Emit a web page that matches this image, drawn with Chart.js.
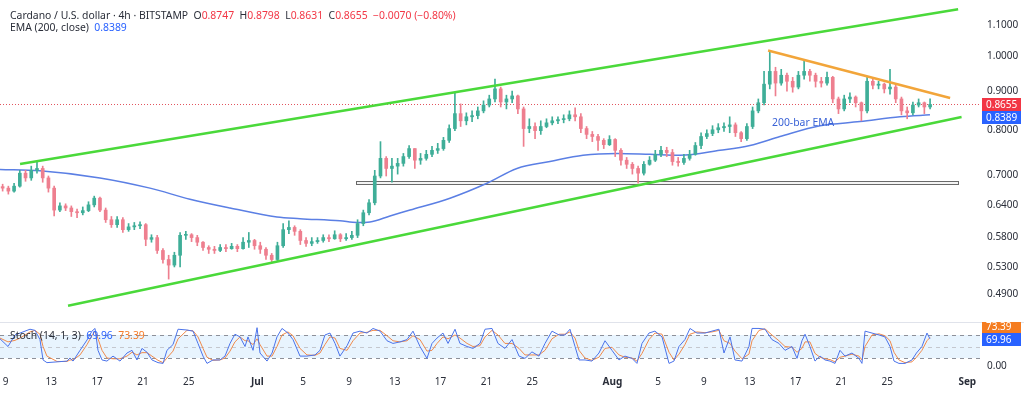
<!DOCTYPE html>
<html><head><meta charset="utf-8">
<script src="https://cdn.jsdelivr.net/npm/chart.js@4.4.1/dist/chart.umd.min.js"></script>
<style>
html,body{margin:0;padding:0;background:#fff;}
body{width:1024px;height:396px;position:relative;overflow:hidden;font-family:'Noto Sans',sans-serif;}
canvas{position:absolute;left:0;}
#main{top:0;}
#stoch{top:322px;}
.t{position:absolute;white-space:nowrap;font-size:10.4px;line-height:12px;color:#2a2e39;}
.r{color:#f23645;} .b{color:#2962ff;} .o{color:#f57c2b;}
</style></head><body>
<canvas id="main" width="1024" height="322"></canvas>
<canvas id="stoch" width="1024" height="74"></canvas>
<div class="t" style="left:10px;top:9px">Cardano / U.S. dollar · 4h · BITSTAMP&nbsp;&nbsp;O<span class="r">0.8747</span>&nbsp;&nbsp;H<span class="r">0.8798</span>&nbsp;&nbsp;L<span class="r">0.8631</span>&nbsp;&nbsp;C<span class="r">0.8655</span>&nbsp;&nbsp;<span class="r">−0.0070 (−0.80%)</span></div>
<div class="t" style="left:10px;top:21px">EMA (200, close)&nbsp;&nbsp;<span class="b">0.8389</span></div>
<div class="t" style="left:772px;top:116px;color:#3a62d6;">200-bar EMA</div>
<div class="t" style="left:10px;top:329px">Stoch (14, 1, 3)&nbsp;&nbsp;<span class="b">69.96</span>&nbsp;&nbsp;<span class="o">73.39</span></div>
<script>
// ---- axis categories (days since Jun 9) ----
const tickDays   = [0,4,8,12,16,22,26,30,34,38,42,46,53,57,61,65,69,73,77,84];
const tickLabels = ['9','13','17','21','25','Jul','5','9','13','17','21','25','Aug','5','9','13','17','21','25','Sep'];
const priceTicks = [0.49,0.53,0.58,0.64,0.70,0.80,0.90,1.00,1.10];
const stochLevels = [20,50,80];

// ---- 12h candles starting Jun 8 12:00 ----
const candleStartDay = -0.5;
const candleStepDays = 0.5;
const firstOpen = 0.676;
const closes = [0.673,0.667,0.677,0.704,0.694,0.710,0.714,0.694,0.673,0.630,
0.638,0.634,0.627,0.625,0.629,0.640,0.653,0.630,0.612,0.603,
0.612,0.594,0.599,0.601,0.603,0.577,0.580,0.558,0.543,0.534,
0.550,0.584,0.585,0.580,0.572,0.563,0.560,0.558,0.563,0.561,
0.565,0.561,0.572,0.575,0.566,0.560,0.550,0.543,0.566,0.594,
0.598,0.591,0.575,0.570,0.573,0.575,0.580,0.578,0.585,0.578,
0.580,0.584,0.605,0.625,0.644,0.698,0.736,0.714,0.719,0.725,
0.740,0.758,0.732,0.736,0.745,0.754,0.758,0.777,0.805,0.842,
0.824,0.834,0.837,0.849,0.864,0.880,0.907,0.872,0.880,0.888,
0.854,0.805,0.810,0.800,0.810,0.819,0.824,0.827,0.829,0.839,
0.834,0.805,0.791,0.786,0.777,0.767,0.779,0.754,0.732,0.723,
0.714,0.704,0.723,0.732,0.745,0.754,0.749,0.729,0.727,0.736,
0.745,0.765,0.786,0.793,0.802,0.807,0.810,0.814,0.795,0.781,
0.810,0.849,0.870,0.920,0.956,0.923,0.945,0.928,0.912,0.945,
0.956,0.945,0.928,0.923,0.939,0.880,0.854,0.880,0.885,0.870,
0.849,0.928,0.917,0.920,0.907,0.912,0.880,0.849,0.844,0.864,
0.870,0.859,0.8655];
const highs = [0.681,0.677,0.683,0.710,0.710,0.719,0.729,0.719,0.698,0.677,
0.644,0.642,0.638,0.632,0.636,0.646,0.657,0.655,0.634,0.618,
0.618,0.616,0.605,0.607,0.608,0.605,0.585,0.584,0.561,0.550,
0.555,0.589,0.591,0.587,0.584,0.573,0.566,0.565,0.568,0.568,
0.570,0.568,0.580,0.589,0.577,0.572,0.563,0.553,0.572,0.605,
0.610,0.601,0.594,0.580,0.580,0.580,0.585,0.585,0.592,0.587,
0.587,0.591,0.612,0.630,0.650,0.710,0.774,0.740,0.736,0.736,
0.747,0.765,0.758,0.747,0.754,0.763,0.770,0.784,0.814,0.898,
0.867,0.844,0.849,0.859,0.875,0.890,0.934,0.912,0.890,0.901,
0.890,0.859,0.829,0.819,0.824,0.829,0.834,0.834,0.839,0.849,
0.857,0.842,0.810,0.798,0.791,0.781,0.788,0.781,0.758,0.738,
0.727,0.719,0.729,0.740,0.754,0.763,0.761,0.756,0.738,0.745,
0.754,0.772,0.795,0.802,0.812,0.817,0.819,0.834,0.819,0.798,
0.817,0.859,0.880,0.956,1.015,0.968,0.962,0.951,0.939,0.956,
0.985,0.962,0.951,0.939,0.954,0.942,0.885,0.890,0.896,0.888,
0.872,0.939,0.934,0.928,0.923,0.962,0.920,0.885,0.859,0.872,
0.880,0.872,0.880];
const lows = [0.667,0.661,0.665,0.675,0.687,0.689,0.704,0.685,0.665,0.619,
0.627,0.629,0.618,0.616,0.621,0.627,0.636,0.627,0.607,0.598,
0.598,0.589,0.591,0.594,0.596,0.566,0.572,0.553,0.537,0.512,
0.531,0.531,0.577,0.573,0.566,0.558,0.553,0.553,0.556,0.556,
0.560,0.556,0.560,0.563,0.560,0.553,0.543,0.538,0.540,0.563,
0.587,0.584,0.568,0.565,0.566,0.570,0.572,0.573,0.577,0.573,
0.575,0.577,0.580,0.601,0.621,0.640,0.694,0.698,0.685,0.702,
0.719,0.736,0.714,0.723,0.732,0.740,0.747,0.754,0.772,0.800,
0.810,0.814,0.822,0.829,0.844,0.859,0.872,0.859,0.854,0.870,
0.842,0.763,0.795,0.781,0.791,0.807,0.814,0.817,0.819,0.824,
0.824,0.795,0.781,0.774,0.754,0.758,0.765,0.740,0.721,0.714,
0.702,0.683,0.700,0.721,0.729,0.740,0.740,0.721,0.719,0.723,
0.732,0.743,0.758,0.781,0.788,0.795,0.798,0.795,0.786,0.774,
0.777,0.805,0.844,0.864,0.907,0.888,0.917,0.901,0.898,0.907,
0.934,0.928,0.912,0.912,0.917,0.870,0.842,0.849,0.870,0.859,
0.824,0.844,0.907,0.907,0.896,0.893,0.870,0.839,0.829,0.839,
0.859,0.842,0.854];

// ---- EMA(200) ----
const emaDays   = [-0.48,3.01,8.25,12.62,16.11,19.61,23.71,25.72,29.21,30.70,31.83,33.58,35.33,38.82,42.05,44.67,47.55,50.44,53.41,56.29,58.91,62.40,65.02,67.64,71.14,74.63,78.12,80.74];
const emaValues = [0.712,0.709,0.694,0.673,0.651,0.634,0.617,0.614,0.610,0.607,0.608,0.619,0.630,0.653,0.683,0.714,0.729,0.743,0.747,0.745,0.743,0.754,0.765,0.786,0.812,0.822,0.834,0.8389];

// ---- drawn trend lines / zone (day, price) ----
const upperChannelDays = [1.27, 83.2],  upperChannelPrices = [0.7236, 1.1525];
const lowerChannelDays = [5.46, 83.5],  lowerChannelPrices = [0.4724, 0.8333];
const resistDays = [66.6, 82.5],        resistPrices = [1.018, 0.8825];
const zoneDays = [30.6, 83.2],          zonePrices = [0.6804, 0.6873];

// ---- Stochastic (14,1,3) ----
const stochDays = [-0.48,0.22,0.83,1.27,2.14,2.58,3.01,3.28,3.62,4.50,5.37,5.63,5.90,6.51,7.12,7.55,7.82,8.08,8.43,8.86,
9.39,10.00,10.61,11.05,11.48,11.92,12.36,12.79,13.32,13.76,14.10,14.63,15.07,15.85,16.38,16.81,17.25,17.60,18.12,18.73,
19.17,19.61,20.04,20.48,20.92,21.18,21.62,21.97,22.23,22.84,23.28,23.71,24.15,24.67,25.11,25.72,26.33,27.03,27.47,27.90,
28.34,28.78,29.21,29.83,30.35,30.96,31.57,32.10,32.71,33.32,33.84,34.45,35.07,35.59,36.20,36.81,37.25,37.69,38.21,38.65,
39.26,39.69,40.31,40.83,41.44,41.88,42.49,43.01,43.62,44.24,44.85,45.37,45.98,46.59,47.12,47.73,48.34,48.86,49.30,49.74,
50.09,50.61,51.22,51.83,52.36,52.97,53.58,54.10,54.72,55.15,55.59,56.20,56.72,57.34,57.95,58.38,58.82,59.34,59.78,60.39,
61.09,61.70,62.31,62.75,63.28,63.71,64.32,64.93,65.20,65.81,66.33,66.94,67.55,68.08,68.69,69.13,69.56,69.83,70.26,70.70,
71.14,71.57,72.01,72.45,72.88,73.32,73.93,74.54,74.80,75.07,75.68,76.29,76.81,77.25,77.60,78.03,78.56,79.17,79.56,80.04,
80.48,80.74];
const stochK = [70,50,80,85,95,92,68,15,8,10,12,20,12,40,67,90,97,40,15,12,
25,12,33,40,15,45,35,15,8,6,40,55,95,93,90,58,25,6,15,15,
25,58,82,75,50,75,40,99,33,12,33,75,97,85,68,25,25,28,40,80,
85,58,25,52,85,90,85,97,90,65,58,62,68,90,50,19,58,72,85,58,
95,58,50,45,58,95,97,58,45,68,25,19,36,25,58,90,80,80,95,50,
15,15,12,33,65,40,15,25,19,6,58,85,90,75,6,12,50,68,97,85,
85,90,95,33,75,15,12,50,97,97,95,68,58,40,50,19,65,82,50,12,
25,15,12,6,40,25,33,19,6,90,85,80,75,50,12,6,6,15,33,50,
85,69.96];
const stochD = [72,62,66,72,88,92,82,50,25,11,11,15,15,28,55,78,90,70,40,20,
18,18,25,35,28,34,34,25,14,8,20,38,70,92,91,75,45,22,14,15,
20,38,62,75,65,65,55,70,55,25,25,50,80,88,78,45,28,27,33,55,
75,72,45,40,65,85,87,92,92,78,65,62,65,78,68,38,40,58,75,70,
80,72,58,50,52,75,92,80,58,58,45,28,28,28,40,70,82,82,88,72,
40,20,14,22,45,48,28,22,20,12,32,68,85,82,35,15,30,55,82,88,
86,88,92,65,58,38,18,30,65,92,96,80,65,50,48,35,45,62,62,32,
22,18,16,10,22,25,30,25,15,50,80,83,78,65,35,15,8,10,22,40,
65,73.39];

// ---------------- build ----------------
const FONT = "'Noto Sans', sans-serif";
const AXIS_COLOR = '#2a2e39';
const X_MIN = -0.48, X_MAX = 85.11;
const UP = '#3fae98', DN = '#ee7f8f';

const opens = closes.map((c, i) => i === 0 ? firstOpen : closes[i - 1]);
const candleDays = closes.map((_, i) => candleStartDay + candleStepDays * (i + 0.5));
const isUp = i => closes[i] >= opens[i];
const lastClose = closes[closes.length - 1];
const lastEma = emaValues[emaValues.length - 1];
const pts = (xs, ys) => xs.map((x, i) => ({x, y: ys[i]}));

function fixAxis(s) { s.width = 44; s.paddingTop = 0; s.paddingBottom = 0; }

function drawValueBox(ctx, x, yc, color, text) {
  ctx.fillStyle = color;
  ctx.fillRect(x, Math.round(yc - 6.5), 39, 13);
  ctx.fillStyle = '#fff';
  ctx.font = "10px " + FONT;
  ctx.textAlign = 'left';
  ctx.textBaseline = 'middle';
  ctx.fillText(text, x + 4, Math.round(yc - 6.5) + 7);
}

const mainDecor = {
  id: 'mainDecor',
  beforeDatasetsDraw(chart) {
    const {ctx, chartArea: a, scales: {x, y}} = chart;
    ctx.save();
    const x0 = Math.round(x.getPixelForValue(zoneDays[0])) + 0.5;
    const x1 = Math.round(x.getPixelForValue(zoneDays[1])) + 0.5;
    const yT = Math.round(y.getPixelForValue(zonePrices[1])) + 0.5;
    const yB = Math.round(y.getPixelForValue(zonePrices[0])) + 0.5;
    ctx.fillStyle = '#f4f4f4';
    ctx.fillRect(x0, yT, x1 - x0, yB - yT);
    ctx.strokeStyle = '#6a6a6a'; ctx.lineWidth = 1;
    ctx.strokeRect(x0, yT, x1 - x0, yB - yT);
    const yl = Math.round(y.getPixelForValue(lastClose)) + 0.5;
    ctx.strokeStyle = '#e2555f'; ctx.setLineDash([1, 2]);
    ctx.beginPath(); ctx.moveTo(a.left, yl); ctx.lineTo(a.right, yl); ctx.stroke();
    ctx.restore();
  },
  afterDraw(chart) {
    const {ctx, chartArea: a, scales: {y}} = chart;
    ctx.save();
    const yr = y.getPixelForValue(lastClose);
    let yb = y.getPixelForValue(lastEma);
    if (yb - yr < 13) yb = yr + 13;
    drawValueBox(ctx, a.right + 2, yr, '#f23645', lastClose.toFixed(4));
    drawValueBox(ctx, a.right + 2, yb, '#2962ff', lastEma.toFixed(4));
    ctx.restore();
  }
};

const lineDs = (data, color, width, order) => ({type: 'line', data, borderColor: color, borderWidth: width, pointRadius: 0, fill: false, order});

new Chart(document.getElementById('main'), {
  type: 'bar',
  data: {
    datasets: [
      Object.assign(lineDs(pts(emaDays, emaValues), '#5b7fe4', 1.5, 6), {tension: 0.4, cubicInterpolationMode: 'monotone'}),
      {type: 'bar', data: candleDays.map((d, i) => ({x: d, y: [lows[i], highs[i]]})),
       backgroundColor: c => isUp(c.dataIndex) ? UP : DN, barThickness: 1, grouped: false, borderWidth: 0, order: 5},
      {type: 'bar', data: candleDays.map((d, i) => ({x: d, y: [opens[i], closes[i]]})),
       backgroundColor: c => isUp(c.dataIndex) ? UP : DN, barThickness: 3, grouped: false, borderWidth: 0, minBarLength: 1, order: 4},
      lineDs(pts(upperChannelDays, upperChannelPrices), '#4ad93a', 2.5, 2),
      lineDs(pts(lowerChannelDays, lowerChannelPrices), '#4ad93a', 2.5, 2),
      lineDs(pts(resistDays, resistPrices), '#f2a53a', 2.5, 1)
    ]
  },
  options: {
    responsive: false, animation: false, events: [],
    layout: {padding: 0},
    plugins: {legend: {display: false}, tooltip: {enabled: false}},
    scales: {
      x: {type: 'linear', min: X_MIN, max: X_MAX, display: false, offset: false},
      y: {type: 'logarithmic', position: 'right', min: 0.4544, max: 1.1849,
          grid: {display: false, drawTicks: false}, border: {display: false},
          afterBuildTicks: s => { s.ticks = priceTicks.map(v => ({value: v})); },
          afterFit: fixAxis,
          ticks: {autoSkip: false, padding: 7, color: AXIS_COLOR, font: {family: FONT, size: 10},
                  callback: v => Number(v).toFixed(4)}}
    }
  },
  plugins: [mainDecor]
});

const stochDecor = {
  id: 'stochDecor',
  beforeDatasetsDraw(chart) {
    const {ctx, chartArea: a, scales: {y}} = chart;
    const yLo = y.getPixelForValue(stochLevels[0]);
    const yMid = y.getPixelForValue(stochLevels[1]);
    const yHi = y.getPixelForValue(stochLevels[2]);
    ctx.save();
    ctx.fillStyle = 'rgba(33,150,243,0.10)';
    ctx.fillRect(a.left, yHi, a.right - a.left, yLo - yHi);
    ctx.lineWidth = 1; ctx.setLineDash([4, 4]);
    [[yHi, '#8d9099'], [yMid, '#c4c7ce'], [yLo, '#8d9099']].forEach(([yy, c]) => {
      ctx.strokeStyle = c; ctx.beginPath();
      ctx.moveTo(a.left, Math.round(yy) + 0.5); ctx.lineTo(a.right, Math.round(yy) + 0.5); ctx.stroke();
    });
    ctx.restore();
  },
  afterDraw(chart) {
    const {ctx, chartArea: a, scales: {y}} = chart;
    ctx.save();
    ctx.strokeStyle = '#e0e3eb'; ctx.lineWidth = 1;
    ctx.beginPath(); ctx.moveTo(0, 0.5); ctx.lineTo(chart.width, 0.5); ctx.stroke();
    const lastK = stochK[stochK.length - 1], lastD = stochD[stochD.length - 1];
    const yk = y.getPixelForValue(lastK) + 1;
    drawValueBox(ctx, a.right + 2, yk - 13, '#f57c1f', lastD.toFixed(2));
    drawValueBox(ctx, a.right + 2, yk, '#2962ff', lastK.toFixed(2));
    ctx.restore();
  }
};

new Chart(document.getElementById('stoch'), {
  type: 'line',
  data: {
    datasets: [
      {data: pts(stochDays, stochD), borderColor: '#f08a4b', borderWidth: 1, pointRadius: 0, order: 2},
      {data: pts(stochDays, stochK), borderColor: '#4b73ea', borderWidth: 1, pointRadius: 0, order: 1}
    ]
  },
  options: {
    responsive: false, animation: false, events: [],
    layout: {padding: 0},
    plugins: {legend: {display: false}, tooltip: {enabled: false}},
    scales: {
      x: {type: 'linear', min: X_MIN, max: X_MAX, offset: false,
          grid: {display: false, drawTicks: false}, border: {display: false},
          afterBuildTicks: s => { s.ticks = tickDays.map(v => ({value: v})); },
          afterFit: s => { s.height = 24; s.paddingLeft = 0; s.paddingRight = 0; },
          ticks: {autoSkip: false, maxRotation: 0, padding: 4, color: AXIS_COLOR,
                  font: c => ({family: FONT, size: 10, weight: isNaN(Number(tickLabels[c.index])) ? 'bold' : 'normal'}),
                  callback: (v, i) => tickLabels[i]}},
      y: {position: 'right', min: -16.4, max: 113.8,
          grid: {display: false, drawTicks: false}, border: {display: false},
          afterBuildTicks: s => { s.ticks = [{value: 0}]; },
          afterFit: fixAxis,
          ticks: {autoSkip: false, padding: 7, color: AXIS_COLOR, font: {family: FONT, size: 10},
                  callback: v => Number(v).toFixed(2)}}
    }
  },
  plugins: [stochDecor]
});
</script>
</body></html>
